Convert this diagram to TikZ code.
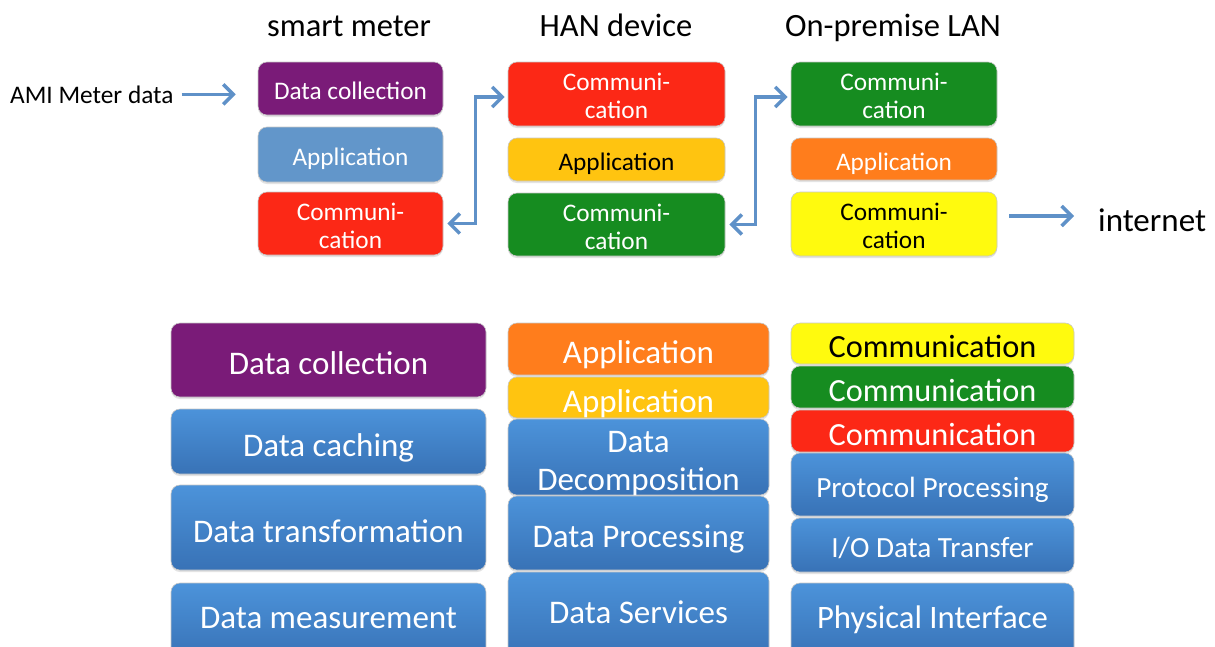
\documentclass[tikz,border=0pt]{standalone}
\usepackage{fontspec}
\setmainfont{Carlito}
\usetikzlibrary{arrows.meta,shadows}
\definecolor{cpurple}{RGB}{122,27,120}
\definecolor{cblue}{RGB}{98,150,202}
\definecolor{cred}{RGB}{252,40,22}
\definecolor{cgold}{RGB}{255,196,16}
\definecolor{cgreen}{RGB}{22,140,32}
\definecolor{corange}{RGB}{255,125,28}
\definecolor{cyellow}{RGB}{255,250,14}
\definecolor{carrow}{RGB}{95,145,200}
\definecolor{btop}{RGB}{76,147,218}
\definecolor{bbot}{RGB}{56,114,182}
\newcommand{\one}[1]{\raisebox{0pt}[0.984em][0.1em]{#1}}
\newcommand{\onehi}[2]{\raisebox{#1}[0.984em][0.1em]{#2}}
\newcommand{\two}[2]{\raisebox{-0.21em}[\height][\depth]{\begin{tabular}{@{}c@{}}#1\\#2\end{tabular}}}
\tikzset{
 layer/.style={rounded corners=9pt, draw=black!22, line width=0.6pt, inner sep=0pt, align=center, text=white,
   drop shadow={shadow xshift=0pt,shadow yshift=-2pt,opacity=0.22}},
 topf/.style={font=\fontsize{25.3}{28}\selectfont},
 botf/.style={font=\fontsize{33}{38}\selectfont},
 commf/.style={font=\fontsize{32.3}{38}\selectfont},
 midf/.style={font=\fontsize{29.3}{34}\selectfont},
 titlef/.style={font=\fontsize{32.5}{38}\selectfont, inner sep=0pt, anchor=base},
 bluelayer/.style={layer, top color=btop, bottom color=bbot},
 arr/.style={draw=carrow, line width=3.5pt, -{Straight Barb[length=10pt,width=20pt]}},
 darr/.style={draw=carrow, line width=3.5pt, {Straight Barb[length=10pt,width=20pt]}-{Straight Barb[length=10pt,width=20pt]}},
}
\begin{document}
\begin{tikzpicture}[x=1pt,y=-1pt]
\useasboundingbox (0,0) rectangle (1215,646);
\clip (0,0) rectangle (1215,646);
\fill[white] (0,0) rectangle (1215,646);

% titles
\node[titlef] (t1) at (349,36) {smart meter};
\node[titlef] (t2) at (616,36) {HAN device};
\node[titlef] (t3) at (893,36) {On-premise LAN};
\node[font=\fontsize{25.3}{30}\selectfont, inner sep=0pt, anchor=base west] (ami) at (10,103) {AMI Meter data};
\node[font=\fontsize{33}{38}\selectfont, inner sep=0pt, anchor=base west] (inet) at (1098,231) {internet};

% smart meter column
\node[layer, topf, fill=cpurple, minimum width=185pt, minimum height=53pt] (sm1) at (350.5,88.5) {\one{Data collection}};
\node[layer, topf, fill=cblue, minimum width=185pt, minimum height=55pt] (sm2) at (350.5,154.5) {\one{Application}};
\node[layer, topf, fill=cred, minimum width=185pt, minimum height=63pt] (sm3) at (350.5,223.5) {\two{Communi-}{cation}};
% HAN column
\node[layer, topf, fill=cred, minimum width=217pt, minimum height=64pt] (h1) at (616.5,94) {\two{Communi-}{cation}};
\node[layer, topf, fill=cgold, text=black, minimum width=217pt, minimum height=43pt] (h2) at (616.5,159.5) {\one{Application}};
\node[layer, topf, fill=cgreen, minimum width=217pt, minimum height=63pt] (h3) at (616.5,224.5) {\two{Communi-}{cation}};
% LAN column
\node[layer, topf, fill=cgreen, minimum width=206pt, minimum height=64pt] (l1) at (894,94) {\two{Communi-}{cation}};
\node[layer, topf, fill=corange, minimum width=206pt, minimum height=42pt] (l2) at (894,159) {\one{Application}};
\node[layer, topf, fill=cyellow, text=black, minimum width=206pt, minimum height=64pt] (l3) at (894,224) {\two{Communi-}{cation}};

% arrows
\draw[arr] ([xshift=8pt]ami.east) -- ([xshift=-22pt]ami.east -| sm1.west);
\draw[darr] ([xshift=4pt]sm3.east) -- ++(28,0) |- ([xshift=-3pt,yshift=-3pt]h1.west);
\draw[darr] ([xshift=4pt]h3.east) -- ++(26,0) |- ([xshift=-3pt,yshift=-3pt]l1.west);
\draw[arr] ([xshift=12pt,yshift=8pt]l3.east) -- ([xshift=-24pt,yshift=8pt]l3.east -| inet.west);

% bottom column 1
\node[layer, botf, fill=cpurple, minimum width=315pt, minimum height=74pt] (b11) at (328.5,360) {\one{Data collection}};
\node[bluelayer, botf, minimum width=315pt, minimum height=65pt] (b12) at (328.5,441.5) {\one{Data caching}};
\node[bluelayer, botf, minimum width=315pt, minimum height=85pt] (b13) at (328.5,527.5) {\one{Data transformation}};
\node[bluelayer, botf, minimum width=315pt, minimum height=77pt] (b14) at (328.5,621.5) {\onehi{7.5pt}{Data measurement}};
% bottom column 2
\node[layer, botf, fill=corange, minimum width=261pt, minimum height=52pt] (b21) at (638.5,349) {\one{Application}};
\node[layer, botf, fill=cgold, minimum width=261pt, minimum height=41pt] (b22) at (638.5,397.5) {\one{Application}};
\node[bluelayer, botf, minimum width=261pt, minimum height=74pt] (b23) at (638.5,457) {\two{Data}{Decomposition}};
\node[bluelayer, botf, minimum width=261pt, minimum height=74pt] (b24) at (638.5,533) {\one{Data Processing}};
\node[bluelayer, botf, minimum width=261pt, minimum height=88pt] (b25) at (638.5,616) {\onehi{7pt}{Data Services}};
% bottom column 3
\node[layer, commf, fill=cyellow, text=black, minimum width=283pt, minimum height=41pt] (b31) at (932.5,343.5) {\one{Communication}};
\node[layer, commf, fill=cgreen, minimum width=283pt, minimum height=42pt] (b32) at (932.5,387) {\one{Communication}};
\node[layer, commf, fill=cred, minimum width=283pt, minimum height=42pt] (b33) at (932.5,431) {\one{Communication}};
\node[bluelayer, midf, minimum width=283pt, minimum height=63pt] (b34) at (932.5,484.5) {\one{Protocol Processing}};
\node[bluelayer, midf, minimum width=283pt, minimum height=54pt] (b35) at (932.5,545) {\one{I/O Data Transfer}};
\node[bluelayer, font=\fontsize{32.7}{38}\selectfont, minimum width=283pt, minimum height=77pt] (b36) at (932.5,621.5) {\onehi{7.5pt}{Physical Interface}};
\end{tikzpicture}
\end{document}
